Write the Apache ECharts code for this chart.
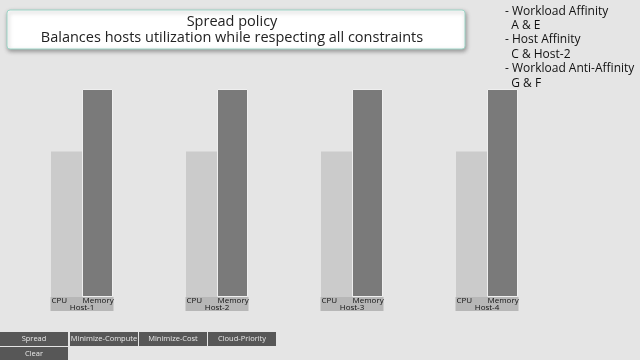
<!DOCTYPE html>
<html><head><meta charset="utf-8">
<style>html,body{margin:0;padding:0;background:#e5e5e5;}#c{width:640px;height:360px;}</style>
<script src="https://cdn.jsdelivr.net/npm/echarts@6/dist/echarts.min.js"></script>
</head><body><div id="c"></div>
<script>
var hosts = ['Host-1','Host-2','Host-3','Host-4'];
var cpuValues = [0.70, 0.70, 0.70, 0.70];
var memoryValues = [1.0, 1.0, 1.0, 1.0];
var titleLines = ['Spread policy', 'Balances hosts utilization while respecting all constraints'];
var constraintLines = ['- Workload Affinity', '  A & E', '- Host Affinity', '  C & Host-2', '- Workload Anti-Affinity', '  G & F'];
var buttonsRow1 = ['Spread','Minimize-Compute','Minimize-Cost','Cloud-Priority'];
var buttonsRow2 = ['Clear'];

var FONT = '"Open Sans", "Noto Sans", sans-serif';
var chart = echarts.init(document.getElementById('c'), null, {renderer:'canvas'});

var graphics = [];
graphics.push({type:'rect', shape:{x:7, y:10, width:458, height:39, r:3},
  style:{fill:'#ffffff', stroke:'#9fd6c8', lineWidth:1, shadowBlur:4, shadowColor:'rgba(0,0,0,0.35)', shadowOffsetX:1, shadowOffsetY:2}});
graphics.push({type:'text', x:232, y:30, style:{text:titleLines.join('\n'), font:'14.5px ' + FONT, fill:'#222', align:'center', verticalAlign:'middle', lineHeight:16}});
graphics.push({type:'text', x:505, y:4, style:{text:constraintLines.join('\n'), font:'12px ' + FONT, fill:'#111', align:'left', verticalAlign:'top', lineHeight:14.4}});
function addButtons(labels, y) {
  var xs = [0, 70, 139, 208];
  labels.forEach(function(lb, i){
    graphics.push({type:'rect', shape:{x:xs[i], y:y, width:68, height:14}, style:{fill:'#575757'}});
    graphics.push({type:'text', x:xs[i]+34, y:y+7, style:{text:lb, font:'7.5px ' + FONT, fill:'#e8e8e8', align:'center', verticalAlign:'middle'}});
  });
}
addButtons(buttonsRow1, 332);
addButtons(buttonsRow2, 347);

chart.setOption({
  backgroundColor:'#e5e5e5',
  animation:false,
  grid:{left:14.5, right:640-554.5, top:89, bottom:63, containLabel:false},
  xAxis:{type:'category', data:hosts, axisLine:{show:false}, axisTick:{show:false}, splitLine:{show:false},
    axisLabel:{margin:0, interval:0, backgroundColor:'#b7b7b7', padding:[0,0,0,0],
      formatter:function(v){ return '{a|CPU}{b|Memory}\n{h|' + v + '}'; },
      rich:{
        a:{width:31, align:'left', fontSize:8, fontFamily:FONT, color:'#111', lineHeight:7, padding:[1,0,0,1]},
        b:{width:31, align:'left', fontSize:8, fontFamily:FONT, color:'#111', lineHeight:7, padding:[1,0,0,0]},
        h:{width:62, align:'center', fontSize:8, fontFamily:FONT, color:'#111', lineHeight:7}
      }}},
  yAxis:{type:'value', min:0, max:1, show:false, splitLine:{show:false}},
  series:[
    {name:'CPU', type:'bar', data:cpuValues, barWidth:31, barGap:'0%', itemStyle:{color:'#cbcbcb'}},
    {name:'Memory', type:'bar', data:memoryValues, barWidth:31, barGap:'0%', itemStyle:{color:'#7a7a7a', borderColor:'#efefef', borderWidth:1}}
  ],
  graphic:graphics
});
</script></body></html>
